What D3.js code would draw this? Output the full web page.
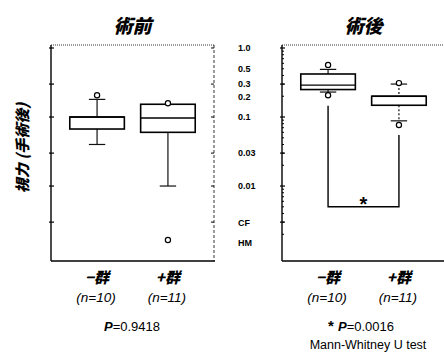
<!DOCTYPE html>
<html>
<head>
<meta charset="utf-8">
<title>視力 術前・術後</title>
<style>
  body { margin: 0; background: #fff; }
  svg { font-family: "Noto Sans CJK JP", "Liberation Sans", sans-serif; }
  .frame { fill: none; stroke: #000; }
  .box { fill: #fff; stroke: #000; stroke-width: 1.6px; }
  .whisker { stroke: #111; stroke-width: 1.2px; }
  .outlier { fill: #fff; stroke: #000; stroke-width: 1.2px; }
  .lbl { font-weight: bold; font-style: italic; }
</style>
</head>
<body>
<script src="https://d3js.org/d3.v7.min.js"></script>
<script>

var groups = ["−群", "+群"];
var nLabels = ["(n=10)", "(n=11)"];

// box stats: lo, q1, median, q3, hi
var preStats = [
  [0.04, 0.067, 0.1, 0.1, 0.18],
  [0.01, 0.06, 0.097, 0.153, 0.153]
];
var preOutliers = [[0.2], [0.153, 0.0016]];

var postStats = [
  [0.23, 0.25, 0.29, 0.42, 0.49],
  [0.088, 0.148, 0.2, 0.2, 0.3]
];
var postOutliers = [[0.2, 0.55], [0.074, 0.3]];

var tickValues = [1.0, 0.5, 0.3, 0.2, 0.1, 0.03, 0.01, 0.003, 0.0015];
var tickLabels = ["1.0", "0.5", "0.3", "0.2", "0.1", "0.03", "0.01", "CF", "HM"];
var majorTicks = [1.0, 0.3, 0.1, 0.03, 0.01, 0.003];

// bracket for the significance mark (values on the y scale)
var bracketTop = [0.145, 0.055];
var bracketBottom = 0.005;

var width = 444, height = 354;

var svg = d3.select("body").append("svg")
    .attr("width", width)
    .attr("height", height);

var y = d3.scaleLog()
    .domain([0.00082, 1.105])
    .range([261, 45]);

var minorTicks = [];
[0.001, 0.01, 0.1].forEach(function (d) {
  for (var k = 2; k <= 9; k++) minorTicks.push(d * k);
});
minorTicks = minorTicks.filter(function (d) { return d < 1.1 && d > 0.0009; });

function panel(x0, x1, stats, outliers, title, pText, opts) {
  var x = d3.scalePoint().domain(groups).range([x0, x1]).padding(0.65);
  var bw = x.step() * 0.77;
  var g = svg.append("g");

  // frame
  g.append("line").attr("class", "frame")
      .attr("x1", x0).attr("x2", x1).attr("y1", y.range()[1]).attr("y2", y.range()[1])
      .attr("stroke-dasharray", "1,1").attr("stroke-width", 0.8);
  g.append("line").attr("class", "frame")
      .attr("x1", x0).attr("x2", x1 + 1).attr("y1", y.range()[0]).attr("y2", y.range()[0])
      .attr("stroke-width", 1.6);
  g.append("line").attr("class", "frame")
      .attr("x1", x0).attr("x2", x0).attr("y1", y.range()[1]).attr("y2", y.range()[0])
      .attr("stroke-width", 1.4);
  if (opts.rightFrame) {
    g.append("line").attr("class", "frame")
        .attr("x1", x1).attr("x2", x1).attr("y1", y.range()[1]).attr("y2", y.range()[0])
        .attr("stroke-dasharray", "3,2").attr("stroke-width", 0.8);
    g.selectAll(".rt").data(majorTicks).enter().append("line")
        .attr("x1", x1 - 3).attr("x2", x1)
        .attr("y1", function (d) { return y(d); })
        .attr("y2", function (d) { return y(d); })
        .attr("stroke", "#000");
  }

  // left axis ticks
  var ax = g.append("g").attr("transform", "translate(" + x0 + ",0)");
  ax.selectAll(".mn").data(minorTicks).enter().append("line")
      .attr("x1", 0).attr("x2", opts.labels ? 2 : 0)
      .attr("y1", function (d) { return y(d); })
      .attr("y2", function (d) { return y(d); })
      .attr("stroke", "#000");
  ax.selectAll(".mj").data(majorTicks).enter().append("line")
      .attr("x1", -2).attr("x2", 3)
      .attr("y1", function (d) { return y(d); })
      .attr("y2", function (d) { return y(d); })
      .attr("stroke", "#000").attr("stroke-width", 1.2);

  if (opts.labels) {
    var axis = d3.axisLeft(y).tickValues(tickValues).tickSize(0)
        .tickFormat(function (d, i) { return tickLabels[i]; });
    var la = svg.append("g").attr("transform", "translate(" + x0 + ",0)").call(axis);
    la.select(".domain").remove();
    la.selectAll("text")
        .attr("x", -44).attr("text-anchor", "start")
        .style("font-family", "Liberation Sans, sans-serif")
        .style("font-size", "9px").style("font-weight", "bold")
        .attr("fill", "#000");
  }

  // boxes
  stats.forEach(function (s, i) {
    var cx = x(groups[i]);
    var dash = opts.dashed && i === 1 ? "2,2" : null;
    g.append("line").attr("class", "whisker")
        .attr("x1", cx).attr("x2", cx).attr("y1", y(s[4])).attr("y2", y(s[3]))
        .attr("stroke-dasharray", dash);
    g.append("line").attr("class", "whisker")
        .attr("x1", cx).attr("x2", cx).attr("y1", y(s[1])).attr("y2", y(s[0]))
        .attr("stroke-dasharray", dash);
    [s[0], s[4]].forEach(function (v) {
      if (v === s[3] || v === s[1]) return;
      g.append("line").attr("class", "whisker")
          .attr("x1", cx - bw * 0.15).attr("x2", cx + bw * 0.15)
          .attr("y1", y(v)).attr("y2", y(v))
          .attr("stroke-width", 1.6);
    });
    g.append("rect").attr("class", "box")
        .attr("x", cx - bw / 2).attr("width", bw)
        .attr("y", y(s[3])).attr("height", y(s[1]) - y(s[3]));
    g.append("line")
        .attr("x1", cx - bw / 2).attr("x2", cx + bw / 2)
        .attr("y1", y(s[2])).attr("y2", y(s[2]))
        .attr("stroke", "#000").attr("stroke-width", 1.4);
    g.selectAll(null).data(outliers[i]).enter().append("circle")
        .attr("class", "outlier")
        .attr("cx", cx).attr("cy", function (d) { return y(d) - 1; })
        .attr("r", 2.6);
  });

  // x labels
  groups.forEach(function (gName, i) {
    svg.append("text").attr("class", "lbl")
        .attr("x", x(gName)).attr("y", 283).attr("text-anchor", "middle")
        .style("font-size", "15px").style("font-weight", 900).text(gName);
    svg.append("text")
        .attr("x", x(gName) - 1).attr("y", 302).attr("text-anchor", "middle")
        .style("font-size", "13.5px").style("font-style", "italic")
        .style("font-family", "Liberation Sans, sans-serif")
        .text(nLabels[i]);
  });

  svg.append("text").attr("class", "lbl")
      .attr("x", (x0 + x1) / 2).attr("y", 33).attr("text-anchor", "middle")
      .style("font-size", "19px").style("font-weight", 900).text(title);

  var pt = svg.append("text")
      .attr("x", opts.pX).attr("y", 331).attr("text-anchor", "middle")
      .style("font-size", "13px").style("font-family", "Liberation Sans, sans-serif");
  if (opts.star) pt.append("tspan").style("font-weight", "bold").style("font-size", "15px").text("* ");
  pt.append("tspan").style("font-style", "italic").style("font-weight", "bold").text("P");
  pt.append("tspan").text("=" + pText);

  return x;
}

panel(51, 214, preStats, preOutliers, "術前", "0.9418",
  { rightFrame: true, labels: false, pX: 132 });

var xr = panel(282, 445, postStats, postOutliers, "術後", "0.0016",
  { rightFrame: false, labels: true, dashed: true, star: true, pX: 361 });

// significance bracket
var bx = groups.map(function (gName) { return xr(gName); });
var br = svg.append("g").attr("stroke", "#000").attr("stroke-width", 1.4).attr("fill", "none");
br.append("path").attr("d",
  "M" + bx[0] + "," + y(bracketTop[0]) +
  "V" + y(bracketBottom) +
  "H" + bx[1] +
  "V" + y(bracketTop[1]));
svg.append("text")
    .attr("x", (bx[0] + bx[1]) / 2).attr("y", y(bracketBottom) + 4)
    .attr("text-anchor", "middle")
    .style("font-size", "20px").style("font-weight", "bold")
    .style("font-family", "Liberation Sans, sans-serif").text("*");

svg.append("text")
    .attr("x", 368).attr("y", 349).attr("text-anchor", "middle")
    .style("font-size", "12.5px").style("font-family", "Liberation Sans, sans-serif")
    .text("Mann-Whitney U test");

// y axis title
svg.append("text").attr("class", "lbl")
    .attr("transform", "translate(28,148) rotate(-90)")
    .attr("text-anchor", "middle")
    .style("font-size", "15px").style("font-weight", 900)
    .text("視力 (手術後)");

</script>
</body>
</html>
